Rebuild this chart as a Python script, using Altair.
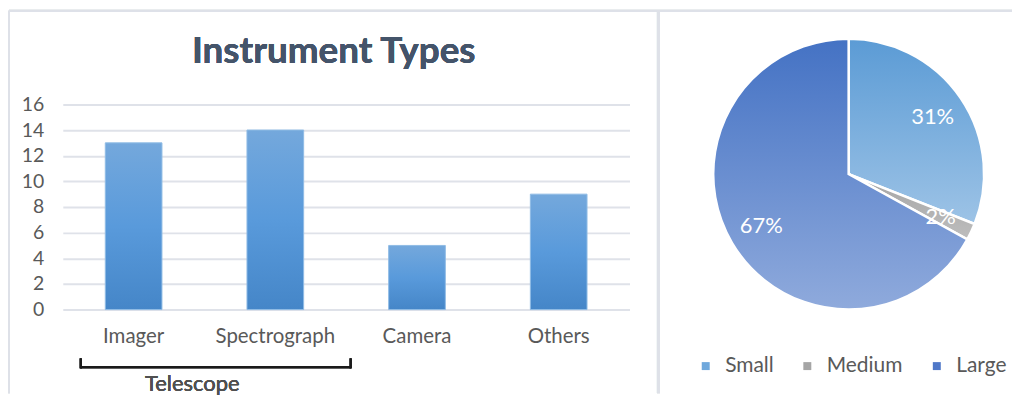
import altair as alt
import pandas as pd

# ---- data ----
categories = ["Imager", "Spectrograph", "Camera", "Others"]
counts = [13, 14, 5, 9]
y_ticks = [0, 2, 4, 6, 8, 10, 12, 14, 16]

sizes = ["Small", "Medium", "Large"]
shares = [31, 2, 67]
size_order = [0, 1, 2]

group_label = "Telescope"
chart_title = "Instrument Types"

FONT = "Lato"
TXT = "#595959"

bar_df = pd.DataFrame({"category": categories, "count": counts})
pie_df = pd.DataFrame({"size": sizes, "share": shares, "order": size_order})

# ---- bar chart ----
bar_fill = alt.Gradient(
    gradient="linear",
    stops=[
        alt.GradientStop(color="#74A8DC", offset=0),
        alt.GradientStop(color="#599ADB", offset=0.5),
        alt.GradientStop(color="#4586C8", offset=1),
    ],
    x1=0, x2=0, y1=0, y2=1,
)

bars = alt.Chart(bar_df).mark_bar(color=bar_fill, stroke="#8FBBE5", strokeWidth=1).encode(
    x=alt.X(
        "category:N",
        sort=categories,
        scale=alt.Scale(paddingInner=0.6, paddingOuter=0.3),
        axis=alt.Axis(
            title=None, labelAngle=0, labelFontSize=20.5, labelColor=TXT, labelFont=FONT,
            labelPadding=17, domain=False, ticks=False, grid=False,
        ),
    ),
    y=alt.Y(
        "count:Q",
        scale=alt.Scale(domain=[0, 16]),
        axis=alt.Axis(
            title=None, values=y_ticks, labelFontSize=19.5, labelColor=TXT, labelFont=FONT,
            labelPadding=19, domain=False, ticks=False, grid=True,
            gridColor="#DFE2E9", gridWidth=2,
        ),
    ),
)

title_txt = alt.Chart(bar_df).mark_text(
    text=chart_title, fontSize=37, font=FONT, fontWeight="bold", color="#44546A",
    baseline="middle", align="center",
).encode(x=alt.value(272), y=alt.value(-53))

# bracket under the telescope instruments
BR = "#1a1a1a"
bracket_h = alt.Chart(bar_df).mark_rule(color=BR, strokeWidth=2).encode(
    x=alt.value(18), x2=alt.value(289), y=alt.value(264)
)
bracket_l = alt.Chart(bar_df).mark_rule(color=BR, strokeWidth=2).encode(
    x=alt.value(18), y=alt.value(255), y2=alt.value(265)
)
bracket_r = alt.Chart(bar_df).mark_rule(color=BR, strokeWidth=2).encode(
    x=alt.value(289), y=alt.value(255), y2=alt.value(265)
)
bracket_txt = alt.Chart(bar_df).mark_text(
    text=group_label, fontSize=22, font=FONT, fontWeight="normal", color="#505050",
    baseline="middle", align="center",
).encode(x=alt.value(130), y=alt.value(281))

# panel borders
BORDER = "#DEE1E8"
top_border = alt.Chart(bar_df).mark_rule(color=BORDER, strokeWidth=2).encode(
    x=alt.value(-54), x2=alt.value(953), y=alt.value(-94)
)
left_border = alt.Chart(bar_df).mark_rule(color=BORDER, strokeWidth=2).encode(
    x=alt.value(-54), y=alt.value(-94), y2=alt.value(290)
)
mid_border = alt.Chart(bar_df).mark_rule(color=BORDER, strokeWidth=3).encode(
    x=alt.value(598), y=alt.value(-94), y2=alt.value(290)
)

# ---- pie chart ----
theta_scale = alt.Scale(domain=[0, 100], range=[0, 6.283185307179586])
CX, CY = 789, 70

pie_base = alt.Chart(pie_df).transform_window(
    cum="sum(share)", sort=[alt.SortField("order")]
).transform_calculate(
    start="datum.cum - datum.share",
    mid="datum.cum - datum.share / 2",
    label="datum.share + '%'",
)

arc_legend = pie_base.mark_arc(outerRadius=136, stroke="white", strokeWidth=2.5).encode(
    x=alt.value(CX), y=alt.value(CY),
    theta=alt.Theta("start:Q", scale=theta_scale),
    theta2="cum:Q",
    color=alt.Color(
        "size:N",
        sort=sizes,
        scale=alt.Scale(domain=sizes, range=["#6FA8DC", "#A5A5A5", "#4F78C8"]),
        legend=alt.Legend(
            title=None, orient="none", legendX=635, legendY=252, direction="horizontal",
            symbolType="square", symbolSize=64, symbolStrokeWidth=0,
            labelFontSize=21, labelColor=TXT, labelFont=FONT,
            columnPadding=23, labelOffset=9,
        ),
    ),
)

def grad(top, bottom):
    return alt.Gradient(
        gradient="linear",
        stops=[alt.GradientStop(color=top, offset=0), alt.GradientStop(color=bottom, offset=1)],
        x1=0, x2=0, y1=0, y2=1,
    )

slice_fills = {
    "Small": grad("#5B9BD5", "#9DC3E6"),
    "Medium": grad("#A5A5A5", "#BDBDBD"),
    "Large": grad("#4472C4", "#8FAADC"),
}

slice_layers = []
for s in sizes:
    slice_layers.append(
        pie_base.transform_filter(alt.datum.size == s)
        .mark_arc(outerRadius=136, stroke="white", strokeWidth=2.5, color=slice_fills[s])
        .encode(
            x=alt.value(CX), y=alt.value(CY),
            theta=alt.Theta("start:Q", scale=theta_scale),
            theta2="cum:Q",
        )
    )

pie_labels = pie_base.mark_text(
    radius=102, fontSize=22, font=FONT, color="white", align="center", baseline="middle"
).encode(
    x=alt.value(CX), y=alt.value(CY),
    theta=alt.Theta("mid:Q", scale=theta_scale),
    text="label:N",
)

chart = alt.layer(
    top_border, left_border, mid_border, title_txt,
    bars, bracket_h, bracket_l, bracket_r, bracket_txt,
    arc_legend, *slice_layers, pie_labels,
).properties(
    width=569,
    height=206,
    padding=0,
    background="white",
).configure_view(stroke=None)

chart.save("out.html", embed_options={"renderer": "svg", "actions": False})
